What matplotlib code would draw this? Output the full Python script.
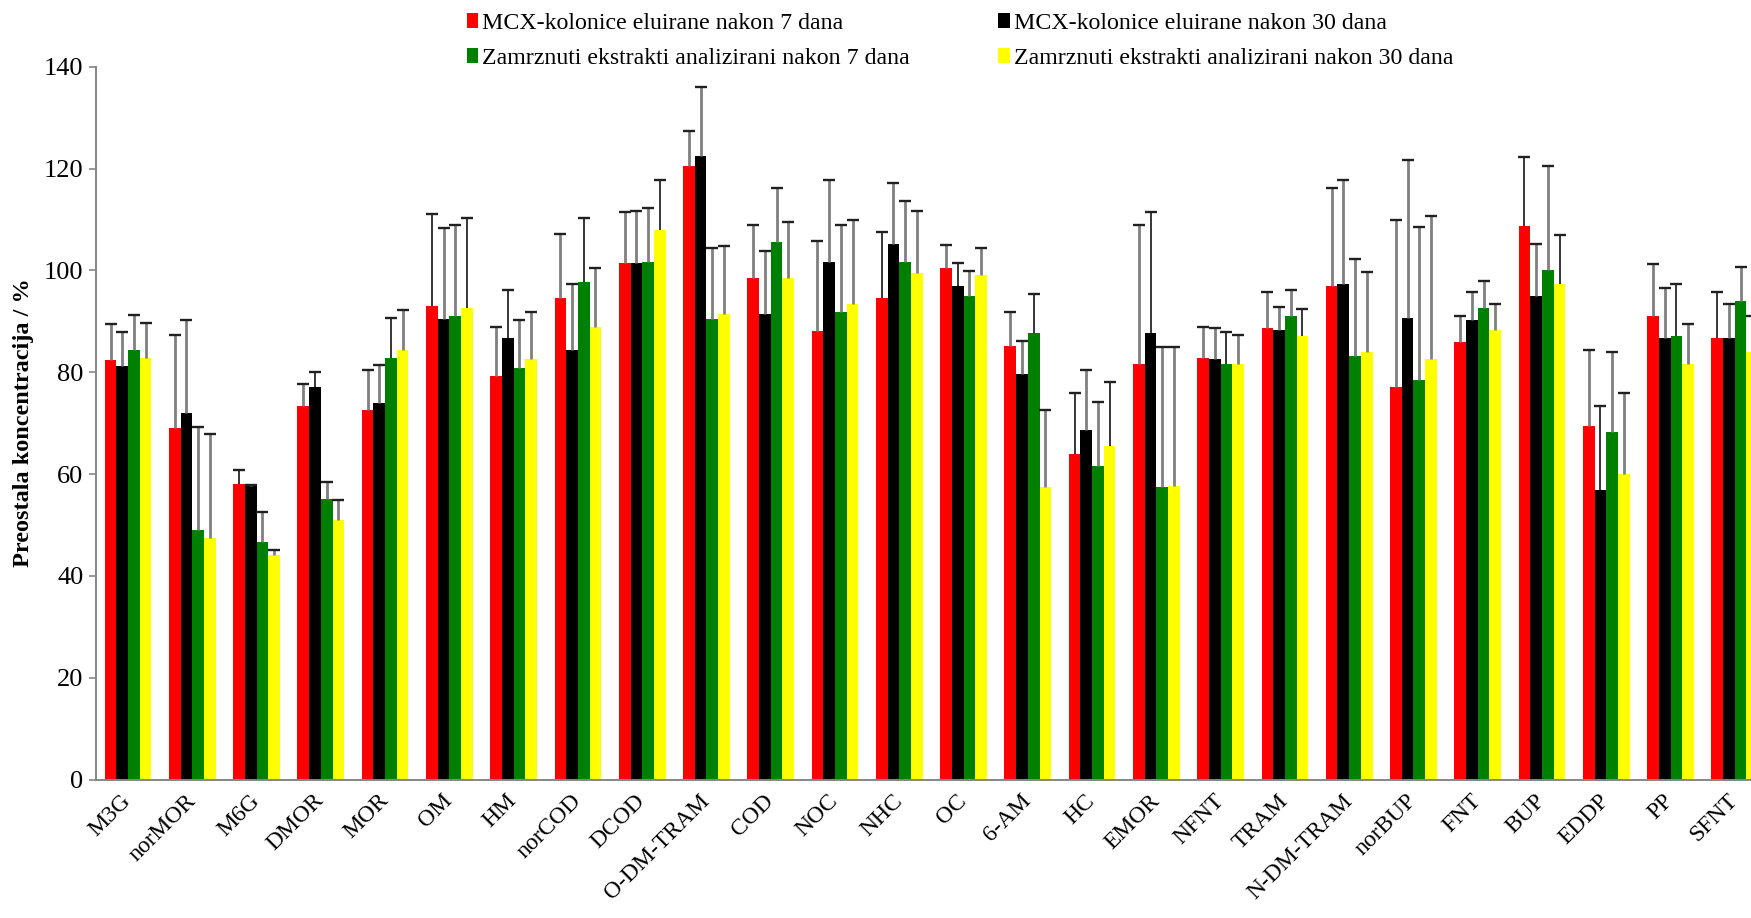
import matplotlib
matplotlib.use("Agg")
import matplotlib.pyplot as plt
import numpy as np
from matplotlib.patches import Patch

plt.rcParams['font.family'] = ['Liberation Serif', 'DejaVu Serif']

categories = ["M3G", "norMOR", "M6G", "DMOR", "MOR", "OM", "HM", "norCOD", "DCOD",
              "O-DM-TRAM", "COD", "NOC", "NHC", "OC", "6-AM", "HC", "EMOR", "NFNT",
              "TRAM", "N-DM-TRAM", "norBUP", "FNT", "BUP", "EDDP", "PP", "SFNT"]

# remaining concentration (%) and standard deviation
mcx_7 = [82.4, 69.1, 58.1, 73.4, 72.6, 93.0, 79.3, 94.6, 101.4, 120.5, 98.5, 88.0, 94.6,
         100.5, 85.2, 64.0, 81.7, 82.8, 88.7, 96.9, 77.0, 86.0, 108.8, 69.5, 91.1, 86.8]
mcx_7_sd = [7.0, 18.3, 2.7, 4.3, 7.8, 18.0, 9.6, 12.5, 10.0, 6.9, 10.5, 17.8, 12.9,
            4.5, 6.6, 12.0, 27.3, 6.1, 7.0, 19.2, 32.8, 5.0, 13.5, 14.8, 10.1, 8.9]

mcx_30 = [81.3, 71.9, 57.6, 77.0, 73.9, 90.4, 86.8, 84.4, 101.4, 122.5, 91.5, 101.7, 105.2,
          97.0, 79.7, 68.7, 87.6, 82.5, 88.3, 97.4, 90.7, 90.3, 95.0, 56.9, 86.8, 86.8]
mcx_30_sd = [6.5, 18.3, 0.3, 3.0, 7.6, 17.9, 9.3, 12.9, 10.3, 13.6, 12.4, 16.0, 12.0,
             4.5, 6.5, 11.7, 23.8, 6.1, 4.6, 20.3, 30.9, 5.4, 10.1, 16.4, 9.7, 6.5]

frozen_7 = [84.4, 49.1, 46.7, 55.0, 82.8, 91.1, 80.9, 97.8, 101.7, 90.4, 105.6, 91.9, 101.7,
            95.0, 87.6, 61.6, 57.4, 81.7, 91.1, 83.2, 78.5, 92.7, 100.1, 68.3, 87.2, 93.9]
frozen_7_sd = [6.9, 20.2, 5.8, 3.4, 7.8, 17.9, 9.3, 12.4, 10.6, 13.9, 10.5, 17.1, 12.0,
               4.9, 7.7, 12.5, 27.6, 6.1, 5.0, 19.1, 30.1, 5.3, 20.3, 15.6, 10.1, 6.8]

frozen_30 = [82.8, 47.5, 44.0, 51.0, 84.4, 92.7, 82.5, 88.8, 107.9, 91.4, 98.5, 93.4, 99.4,
             99.0, 57.4, 65.6, 57.7, 81.7, 87.2, 84.0, 82.5, 88.3, 97.4, 60.1, 81.7, 84.0]
frozen_30_sd = [6.9, 20.3, 1.1, 3.8, 7.8, 17.5, 9.3, 11.6, 9.9, 13.3, 10.9, 16.4, 12.3,
                5.3, 15.1, 12.4, 27.3, 5.7, 5.3, 15.6, 28.1, 5.0, 9.6, 15.9, 7.7, 7.0]

series_labels = ["MCX-kolonice eluirane nakon 7 dana",
                 "MCX-kolonice eluirane nakon 30 dana",
                 "Zamrznuti ekstrakti analizirani nakon 7 dana",
                 "Zamrznuti ekstrakti analizirani nakon 30 dana"]
series_colors = ["#ff0000", "#000000", "#008000", "#ffff00"]
series_values = [mcx_7, mcx_30, frozen_7, frozen_30]
series_sd = [mcx_7_sd, mcx_30_sd, frozen_7_sd, frozen_30_sd]

# error-bar stems drawn in black instead of grey
dark_stems = [
    {"M6G", "OM", "NHC", "HC", "BUP", "SFNT"},
    {"DMOR", "HM", "OC", "EMOR", "EDDP"},
    {"MOR", "norCOD", "6-AM", "NFNT", "PP"},
    {"OM", "DCOD", "HC", "TRAM", "BUP"},
]

W, H = 1751, 918
fig = plt.figure(figsize=(W / 100, H / 100), dpi=100)
ax = fig.add_axes([95.9 / W, (H - 779.5) / H, 26 * 64.27 / W, (779.5 - 66.7) / H])

x = np.arange(len(categories))
bw = 1 / 5.5
for k in range(4):
    pos = x + (k - 1.5) * bw
    vals = np.array(series_values[k])
    sd = np.array(series_sd[k])
    ax.bar(pos, vals, width=bw, color=series_colors[k], linewidth=0, zorder=2)
    stem_cols = ["#000000" if c in dark_stems[k] else "#808080" for c in categories]
    stem_w = [1.1 if c in dark_stems[k] else 2.0 for c in categories]
    ax.vlines(pos, vals, vals + sd, colors=stem_cols, linewidths=stem_w, zorder=3)
    ax.plot(pos, vals + sd, linestyle="none", marker="_", markersize=8.5,
            markeredgewidth=1.7, color="#202020", zorder=4)

ax.set_xlim(-0.5, len(categories) - 0.5)
ax.set_ylim(0, 140)
ax.set_yticks(np.arange(0, 141, 20))
ax.set_xticks(x)
ax.set_xticklabels(categories, rotation=45, ha="right", va="center",
                   rotation_mode="anchor", fontsize=17)
ax.tick_params(axis="x", length=0, pad=13)
ax.tick_params(axis="y", length=5, width=1.2, color="#868686", labelsize=19, pad=4)

for side in ("top", "right"):
    ax.spines[side].set_visible(False)
for side in ("left", "bottom"):
    ax.spines[side].set_color("#868686")
    ax.spines[side].set_linewidth(1.4)

ax.set_ylabel("Preostala koncentracija / %", fontsize=17.5, fontweight="bold", labelpad=7)

handles = [Patch(facecolor=series_colors[i], edgecolor="none") for i in (0, 2, 1, 3)]
labels = [series_labels[i] for i in (0, 2, 1, 3)]
fig.legend(handles, labels, loc="upper left", bbox_to_anchor=(467 / W, 1 - 13 / H),
           ncol=2, frameon=False, fontsize=17.2, borderaxespad=0, borderpad=0,
           handlelength=0.47, handleheight=0.6, handletextpad=0.17,
           columnspacing=3.7, labelspacing=0.58)

fig.savefig("out.png", dpi=100)
